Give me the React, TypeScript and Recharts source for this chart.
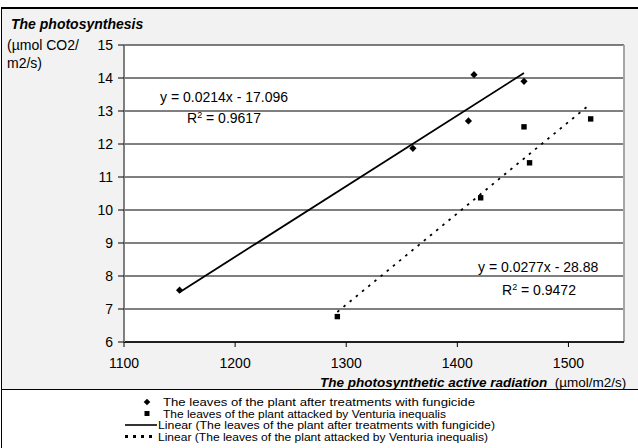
import React from "react";
import {
  ScatterChart,
  Scatter,
  XAxis,
  YAxis,
  CartesianGrid,
  ReferenceLine,
} from "recharts";

const xTicks = [1100, 1200, 1300, 1400, 1500];
const yTicks = [6, 7, 8, 9, 10, 11, 12, 13, 14, 15];

const fungicideX = [1150, 1360, 1410, 1415, 1460];
const fungicideY = [7.57, 11.87, 12.7, 14.1, 13.9];
const venturiaX = [1292, 1421, 1460, 1465, 1520];
const venturiaY = [6.77, 10.37, 12.52, 11.43, 12.76];

const trendFungicideX = [1150, 1460];
const trendFungicideY = [7.51, 14.15];
const trendVenturiaX = [1292, 1520];
const trendVenturiaY = [6.91, 13.22];

const seriesNames = [
  "The leaves of the plant after treatments with fungicide",
  "The leaves of the plant attacked by Venturia inequalis",
  "Linear (The leaves of the plant after treatments with fungicide)",
  "Linear (The leaves of the plant attacked by Venturia inequalis)",
];

const eq1 = ["y = 0.0214x - 17.096", "0.9617"];
const eq2 = ["y = 0.0277x - 28.88", "0.9472"];

const zip = (xs: number[], ys: number[]) => xs.map((x, i) => ({ x, y: ys[i] }));

const fungicideData = zip(fungicideX, fungicideY);
const venturiaData = zip(venturiaX, venturiaY);
const trendFData = zip(trendFungicideX, trendFungicideY);
const trendVData = zip(trendVenturiaX, trendVenturiaY);

const FONT = "'Liberation Sans', Arial, sans-serif";

const Diamond = (props: any) => {
  const { cx, cy } = props;
  const r = 3.6;
  return (
    <path
      d={`M${cx},${cy - r} L${cx + r},${cy} L${cx},${cy + r} L${cx - r},${cy} Z`}
      fill="#000"
    />
  );
};

const Square = (props: any) => {
  const { cx, cy } = props;
  const s = 5.4;
  return <rect x={cx - s / 2} y={cy - s / 2} width={s} height={s} fill="#000" />;
};

const NoShape = () => <g />;

const abs = (left: number, top: number, extra: React.CSSProperties = {}): React.CSSProperties => ({
  position: "absolute",
  left,
  top,
  whiteSpace: "nowrap",
  fontFamily: FONT,
  color: "#000",
  ...extra,
});

const EqLabel = ({ left, top, text }: { left: number; top: number; text: string }) => (
  <div style={abs(left, top, { fontSize: 14, lineHeight: "16px" })}>{text}</div>
);

const R2Label = ({ left, top, value }: { left: number; top: number; value: string }) => (
  <div style={abs(left, top, { fontSize: 14, lineHeight: "16px" })}>
    R<sup style={{ fontSize: 9, verticalAlign: "top", position: "relative", top: -3 }}>2</sup> = {value}
  </div>
);

const legendTextX = [163, 163, 158, 158];
const legendTextLen = [312, 283, 337, 330];

export default function App() {
  return (
    <div
      style={{
        position: "absolute",
        left: 0,
        top: 0,
        width: 638,
        height: 448,
        background: "#fff",
        overflow: "hidden",
      }}
    >
      {/* outer frame */}
      <div
        style={{
          position: "absolute",
          left: 1,
          top: 7,
          width: 660,
          height: 460,
          borderTop: "2px solid #000",
          borderLeft: "1px solid #000",
          background: "#fff",
        }}
      />
      {/* grey chart area */}
      <div
        style={{
          position: "absolute",
          left: 2,
          top: 9,
          width: 660,
          height: 380,
          background: "#f2f2f2",
          borderBottom: "1px solid #000",
        }}
      />

      <div style={{ position: "absolute", left: 0, top: 0 }}>
        <ScatterChart
          width={638}
          height={389}
          margin={{ top: 45, right: 14, bottom: 17, left: 64 }}
        >
          <CartesianGrid
            vertical={false}
            horizontal={true}
            stroke="#000"
            strokeWidth={1}
            fill="#fff"
            strokeDasharray=""
          />
          <XAxis
            type="number"
            dataKey="x"
            domain={[1100, 1550]}
            ticks={xTicks}
            allowDataOverflow
            height={30}
            tickSize={5}
            tickMargin={11}
            axisLine={{ stroke: "#000", strokeWidth: 1.5 }}
            tickLine={{ stroke: "#000" }}
            tick={{ fill: "#000", fontSize: 14, fontFamily: FONT }}
          />
          <YAxis
            type="number"
            dataKey="y"
            domain={[6, 15]}
            ticks={yTicks}
            allowDataOverflow
            width={60}
            tickSize={6}
            tickMargin={5}
            axisLine={{ stroke: "#7f7f7f", strokeWidth: 2 }}
            tickLine={{ stroke: "#000" }}
            tick={{ fill: "#000", fontSize: 14, fontFamily: FONT }}
          />
          <ReferenceLine x={1550} stroke="#a6a6a6" strokeWidth={2} ifOverflow="extendDomain" />
          <Scatter
            name={seriesNames[2]}
            data={trendFData}
            line={{ stroke: "#000", strokeWidth: 1.8 }}
            shape={NoShape}
            isAnimationActive={false}
          />
          <Scatter
            name={seriesNames[3]}
            data={trendVData}
            line={{ stroke: "#000", strokeWidth: 1.8, strokeDasharray: "2.5 5.5" }}
            shape={NoShape}
            isAnimationActive={false}
          />
          <Scatter
            name={seriesNames[0]}
            data={fungicideData}
            shape={Diamond}
            isAnimationActive={false}
          />
          <Scatter
            name={seriesNames[1]}
            data={venturiaData}
            shape={Square}
            isAnimationActive={false}
          />
        </ScatterChart>
      </div>

      {/* titles */}
      <div style={abs(11, 15, { fontSize: 14, fontWeight: "bold", fontStyle: "italic", lineHeight: "18px" })}>
        The photosynthesis
      </div>
      <div style={abs(7, 36, { fontSize: 14, lineHeight: "18px" })}>
        (µmol CO2/
        <br />
        m2/s)
      </div>
      <div style={abs(320, 374, { fontSize: 13.5, lineHeight: "17px" })}>
        <span style={{ fontWeight: "bold", fontStyle: "italic" }}>The photosynthetic active radiation</span>
        <span>{"\u00a0\u00a0(µmol/m2/s)"}</span>
      </div>

      {/* equations */}
      <EqLabel left={160} top={89} text={eq1[0]} />
      <R2Label left={187} top={110} value={eq1[1]} />
      <EqLabel left={478} top={259} text={eq2[0]} />
      <R2Label left={502} top={282} value={eq2[1]} />

      {/* legend */}
      <svg
        width={638}
        height={58}
        style={{ position: "absolute", left: 0, top: 390, display: "block" }}
      >
        {seriesNames.map((name, i) => {
          const cy = 12 + i * 11.5;
          return (
            <g key={name}>
              {i === 0 && (
                <path d={`M147,${cy - 3.3} L150.3,${cy} L147,${cy + 3.3} L143.7,${cy} Z`} fill="#000" />
              )}
              {i === 1 && <rect x={144.5} y={cy - 2.5} width={5} height={5} fill="#000" />}
              {i === 2 && <line x1={125} y1={cy} x2={157} y2={cy} stroke="#000" strokeWidth={1.6} />}
              {i === 3 && (
                <line x1={125} y1={cy} x2={157} y2={cy} stroke="#000" strokeWidth={3} strokeDasharray="3 5" />
              )}
              <text
                x={legendTextX[i]}
                y={cy + 4}
                fontSize={11.5}
                fontFamily={FONT}
                fill="#000"
                textLength={legendTextLen[i]}
                lengthAdjust="spacingAndGlyphs"
              >
                {name}
              </text>
            </g>
          );
        })}
      </svg>
    </div>
  );
}
